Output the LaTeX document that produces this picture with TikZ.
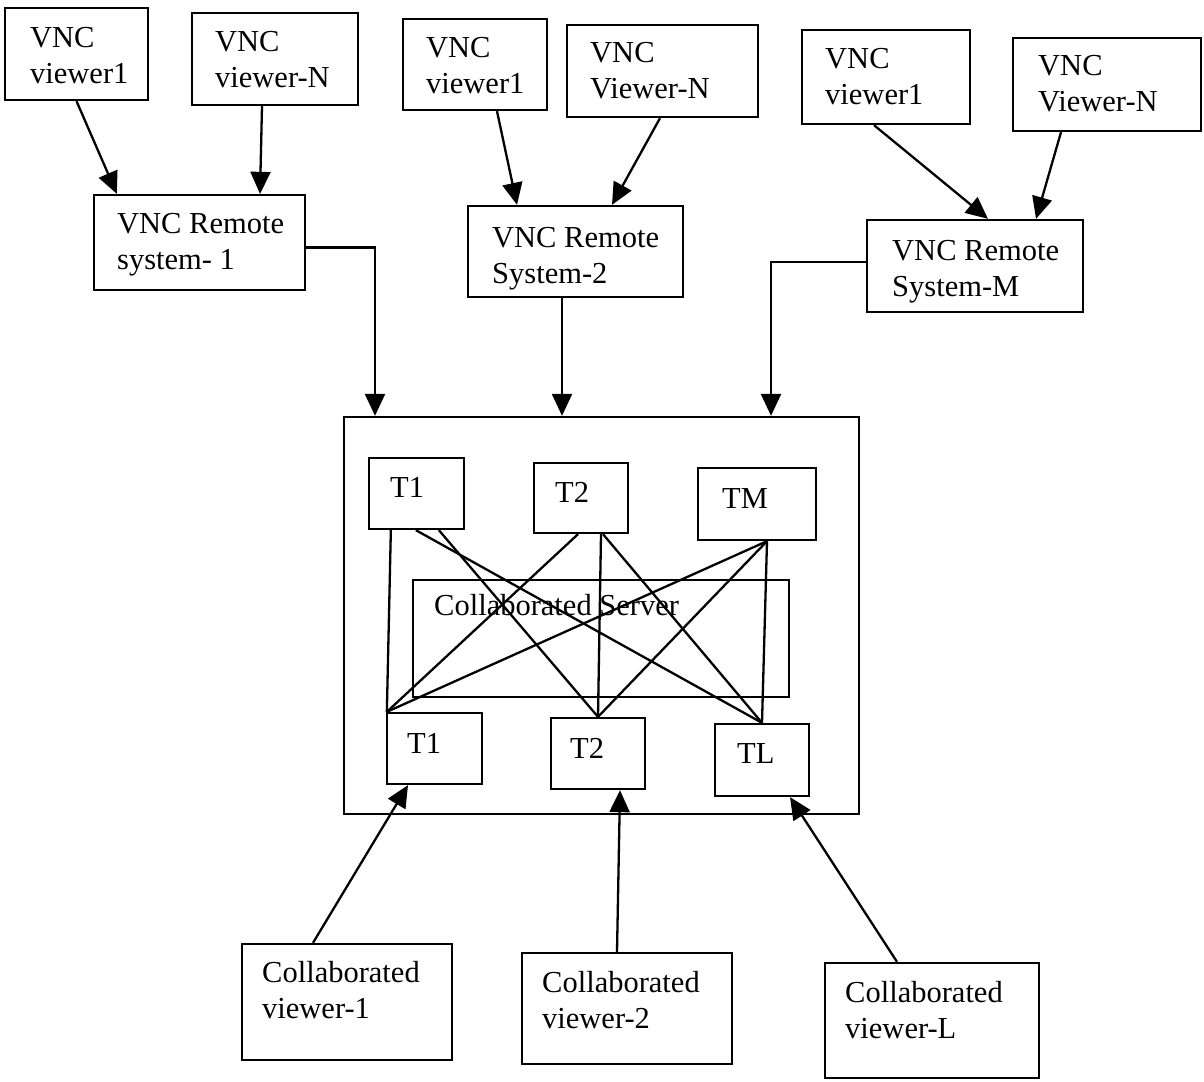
\documentclass[tikz,border=0pt]{standalone}
\usepackage{fontspec}
\setmainfont{Liberation Serif}
\usetikzlibrary{arrows.meta}
\begin{document}
\begin{tikzpicture}[x=1pt,y=-1pt,
  box/.style={draw, line width=2.3pt, inner sep=0pt},
  lbl/.style={anchor=north west, inner sep=0pt, align=left,
              font=\fontsize{30.5}{36.5}\selectfont},
  link/.style={line width=2.3pt},
  arr/.style={line width=2.3pt, -{Triangle[length=22pt,width=20pt]}},
]
\useasboundingbox (0,0) rectangle (1204,1081);

% VNC viewers (top row)
\node[box, minimum width=143pt, minimum height=92pt] (v1L) at (76.5,54) {};
\node[box, minimum width=166pt, minimum height=92pt] (vNL) at (275,59) {};
\node[box, minimum width=144pt, minimum height=91pt] (v1M) at (475,64.5) {};
\node[box, minimum width=191pt, minimum height=92pt] (vNM) at (662.5,71) {};
\node[box, minimum width=168pt, minimum height=94pt] (v1R) at (886,77) {};
\node[box, minimum width=188pt, minimum height=93pt] (vNR) at (1107,84.5) {};

% VNC remote systems
\node[box, minimum width=211pt, minimum height=95pt] (R1) at (199.5,242.5) {};
\node[box, minimum width=215pt, minimum height=91pt] (R2) at (575.5,251.5) {};
\node[box, minimum width=216pt, minimum height=92pt] (RM) at (975,266) {};

% collaboration server block
\node[box, minimum width=515pt, minimum height=397pt] (big) at (601.5,615.5) {};
\node[box, minimum width=95pt, minimum height=71pt] (T1t) at (416.5,493.5) {};
\node[box, minimum width=94pt, minimum height=70pt] (T2t) at (581,498) {};
\node[box, minimum width=118pt, minimum height=72pt] (TMt) at (757,504) {};
\node[box, minimum width=376pt, minimum height=117pt] (srv) at (601,638.5) {};
\node[box, minimum width=95pt, minimum height=71pt] (T1b) at (434.5,748.5) {};
\node[box, minimum width=94pt, minimum height=71pt] (T2b) at (598,753.5) {};
\node[box, minimum width=94pt, minimum height=72pt] (TLb) at (762,760) {};

% collaborated viewers
\node[box, minimum width=210pt, minimum height=116pt] (CV1) at (347,1002) {};
\node[box, minimum width=210pt, minimum height=111pt] (CV2) at (627,1008.5) {};
\node[box, minimum width=214pt, minimum height=115pt] (CVL) at (932,1020.5) {};

% labels
\node[lbl] (tv1L) at (30,27) {VNC\\viewer1};
\node[lbl] (tvNL) at (215,31) {VNC\\viewer-N};
\node[lbl] (tv1M) at (426,37) {VNC\\viewer1};
\node[lbl] (tvNM) at (590,42) {VNC\\Viewer-N};
\node[lbl] (tv1R) at (825,48) {VNC\\viewer1};
\node[lbl] (tvNR) at (1038,55) {VNC\\Viewer-N};
\node[lbl] (tR1) at (117,213) {VNC Remote\\system- 1};
\node[lbl] (tR2) at (492,227) {VNC Remote\\System-2};
\node[lbl] (tRM) at (892,240) {VNC Remote\\System-M};
\node[lbl] (tT1t) at (390,477) {T1};
\node[lbl] (tT2t) at (555,482) {T2};
\node[lbl] (tTMt) at (722,488) {TM};
\node[lbl] (tsrv) at (434,594) {Collaborated Server};
\node[lbl] (tT1b) at (407,733) {T1};
\node[lbl] (tT2b) at (570,738) {T2};
\node[lbl] (tTLb) at (737,743) {TL};
\node[lbl] (tCV1) at (262,961) {Collaborated\\viewer-1};
\node[lbl] (tCV2) at (542,971) {Collaborated\\viewer-2};
\node[lbl] (tCVL) at (845,981) {Collaborated\\viewer-L};

% viewers to remote systems
\draw[arr] (v1L.south) -- ([xshift=24pt]R1.north west);
\draw[arr] ([xshift=-13pt]vNL.south) -- ([xshift=60.5pt]R1.north);
\draw[arr] ([xshift=22pt]v1M.south) -- ([xshift=-58.5pt]R2.north);
\draw[arr] ([xshift=-2.5pt]vNM.south) -- ([xshift=36.5pt]R2.north);
\draw[arr] ([xshift=-12pt]v1R.south) -- ([xshift=13pt]RM.north);
\draw[arr] ([xshift=-46pt]vNR.south) -- ([xshift=61pt]RM.north);

% remote systems to server block
\draw[arr] ([yshift=-5pt]R1.east) -| ([xshift=-226.5pt]big.north);
\draw[arr] ([xshift=-13.5pt]R2.south) -- ([xshift=-39.5pt]big.north);
\draw[arr] ([yshift=4pt]RM.west) -| ([xshift=169.5pt]big.north);

% collaborated viewers to their terminals
\draw[arr] ([xshift=-34pt]CV1.north) -- ([xshift=-26.5pt]T1b.south);
\draw[arr] ([xshift=-10pt]CV2.north) -- ([xshift=22pt]T2b.south);
\draw[arr] ([xshift=-35pt]CVL.north) -- ([xshift=28pt]TLb.south);

% cross connections between terminals
\coordinate (pT1b) at ([xshift=1pt]T1b.north west);
\draw[link] ([xshift=23pt]T1t.south west) -- (pT1b);
\draw[link] ([xshift=48pt]T1t.south west) -- (TLb.north);
\draw[link] ([xshift=71pt]T1t.south west) -- (T2b.north);
\draw[link] ([xshift=-3pt]T2t.south) -- (pT1b);
\draw[link] ([xshift=20pt]T2t.south) -- (T2b.north);
\draw[link] ([xshift=22pt]T2t.south) -- (TLb.north);
\draw[link] ([xshift=10pt]TMt.south) -- (pT1b);
\draw[link] ([xshift=10pt]TMt.south) -- (T2b.north);
\draw[link] ([xshift=10pt]TMt.south) -- (TLb.north);
\end{tikzpicture}
\end{document}
